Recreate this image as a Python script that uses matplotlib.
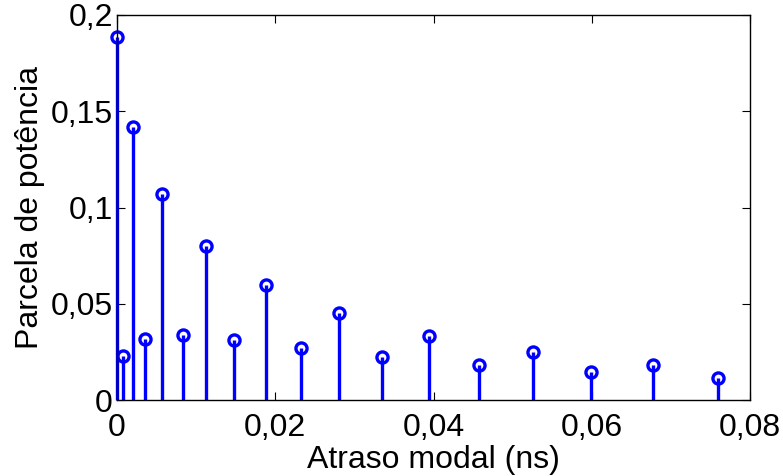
import matplotlib
matplotlib.use("Agg")
import matplotlib.pyplot as plt

# atraso modal (ns) e parcela de potencia
atraso = [0.0, 0.0008, 0.0020, 0.0036, 0.0057, 0.0083, 0.0113, 0.0148, 0.0188,
          0.0232, 0.0281, 0.0335, 0.0394, 0.0458, 0.0526, 0.0599, 0.0677, 0.0760]
potencia = [0.1884, 0.0229, 0.1418, 0.0319, 0.1068, 0.0336, 0.0801, 0.0310, 0.0600,
            0.0270, 0.0450, 0.0225, 0.0334, 0.0184, 0.0248, 0.0146, 0.0184, 0.0112]

xticks = [0, 0.02, 0.04, 0.06, 0.08]
xlabels = ["0", "0,02", "0,04", "0,06", "0,08"]
yticks = [0, 0.05, 0.1, 0.15, 0.2]
ylabels = ["0", "0,05", "0,1", "0,15", "0,2"]

plt.rcParams['font.family'] = ['Liberation Sans', 'DejaVu Sans']

fig = plt.figure(figsize=(7.83, 4.76), dpi=100)
ax = fig.add_axes([117 / 783, 1 - 400 / 476, 633 / 783, 385 / 476])

markerline, stemlines, baseline = ax.stem(atraso, potencia, basefmt=" ")
plt.setp(stemlines, color="#0000ff", linewidth=2.4)
plt.setp(markerline, color="#0000ff", marker="o", markersize=8,
         markerfacecolor="none", markeredgewidth=2.4)
markerline.set_clip_on(False)
stemlines.set_clip_on(False)

ax.set_xlim(0, 0.08)
ax.set_ylim(0, 0.2)
ax.set_xticks(xticks)
ax.set_xticklabels(xlabels)
ax.set_yticks(yticks)
ax.set_yticklabels(ylabels)
ax.tick_params(direction="in", top=True, right=True, length=6, width=0.8,
               labelsize=23)
ax.tick_params(axis="x", pad=9.5)
ax.tick_params(axis="y", pad=3)
for s in ax.spines.values():
    s.set_linewidth(1.0)

ax.set_xlabel("Atraso modal (ns)", fontsize=23, labelpad=1)
ax.set_ylabel("Parcela de potência", fontsize=23, labelpad=4)

fig.savefig("out.png", dpi=100)
